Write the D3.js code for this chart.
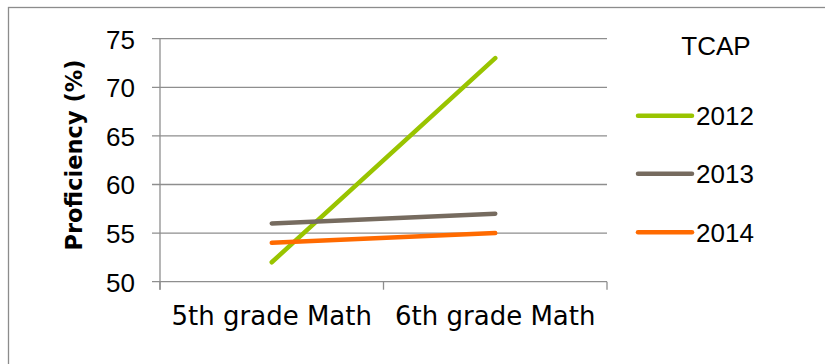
<!DOCTYPE html>
<html><head><meta charset="utf-8">
<script src="https://cdn.jsdelivr.net/npm/d3@7"></script>
<style>
html,body{margin:0;padding:0;background:#fff;}
svg{display:block;}
text{fill:#000;}
</style></head>
<body>
<svg id="c" width="825" height="364"></svg>
<script>
const categories = ["5th grade Math", "6th grade Math"];
const seriesNames = ["2012", "2013", "2014"];
const values2012 = [52, 73];
const values2013 = [56, 57];
const values2014 = [54, 55];
const yTicks = [50, 55, 60, 65, 70, 75];
const colors = ["#99c400", "#766b5f", "#ff6a00"];
const legendTitle = "TCAP";
const yTitle = "Proficiency (%)";

const series = [values2012, values2013, values2014];
const svg = d3.select("#c");
const W = 825, H = 364;
const m = {left:160, right:607, top:38.7, bottom:281.7};
const numFont = "Liberation Sans";
const catFont = "DejaVu Sans";

// outer frame
svg.append("rect").attr("x",8.5).attr("y",7.5).attr("width",W).attr("height",H)
  .attr("fill","none").attr("stroke","#8c8c8c").attr("stroke-width",1.3);

const x = d3.scaleBand().domain(categories).range([m.left, m.right]).padding(0);
const y = d3.scaleLinear().domain([50,75]).range([m.bottom, m.top]);

const gridColor = "#8e8e8e";
svg.append("g").selectAll("line").data(yTicks).join("line")
  .attr("x1", m.left-8).attr("x2", m.right)
  .attr("y1", d=>y(d)).attr("y2", d=>y(d))
  .attr("stroke", gridColor).attr("stroke-width",1.3);

svg.append("line").attr("x1",m.left).attr("x2",m.left).attr("y1",m.top).attr("y2",m.bottom+8)
  .attr("stroke",gridColor).attr("stroke-width",1.3);

const xAxis = d3.axisBottom(x).tickSize(0).tickSizeOuter(0);
const gx = svg.append("g").attr("transform",`translate(0,${m.bottom})`).call(xAxis);
gx.select(".domain").remove();
gx.selectAll("text").attr("dy",null).attr("y",43).attr("font-size","26px")
  .style("font-family",catFont).attr("fill","#000");
const bounds = [m.left].concat(categories.map(c=>x(c)+x.bandwidth()));
svg.append("g").selectAll("line").data(bounds).join("line")
  .attr("x1",d=>d).attr("x2",d=>d).attr("y1",m.bottom).attr("y2",m.bottom+8)
  .attr("stroke",gridColor).attr("stroke-width",1.3);

const yAxis = d3.axisLeft(y).tickValues(yTicks).tickSize(0).tickPadding(0);
const gy = svg.append("g").attr("transform",`translate(135,0)`).call(yAxis);
gy.select(".domain").remove();
gy.selectAll("text").attr("font-size","26px").attr("dy","0.36em").attr("x",0)
  .style("font-family",numFont).attr("fill","#000");

svg.append("text").attr("transform",`translate(82,155) rotate(-90)`)
  .attr("text-anchor","middle").attr("font-size","22.5px").attr("font-weight","bold")
  .style("font-family",catFont).text(yTitle);

const line = d3.line().x((d,i)=>x(categories[i])+x.bandwidth()/2).y(d=>y(d));
svg.append("g").selectAll("path").data(series).join("path")
  .attr("d", line).attr("fill","none").attr("stroke",(d,i)=>colors[i])
  .attr("stroke-width",4.5).attr("stroke-linecap","round");

svg.append("text").attr("x",716).attr("y",55).attr("text-anchor","middle")
  .attr("font-size","26px").style("font-family",numFont).text(legendTitle);
const ly = [115.7, 173.7, 232.3];
const lg = svg.append("g").selectAll("g").data(seriesNames).join("g")
  .attr("transform",(d,i)=>`translate(0,${ly[i]})`);
lg.append("line").attr("x1",638).attr("x2",692).attr("stroke",(d,i)=>colors[i])
  .attr("stroke-width",4.5).attr("stroke-linecap","round");
lg.append("text").attr("x",696).attr("dy","0.36em").attr("font-size","26px")
  .style("font-family",numFont).text(d=>d);
</script>
</body></html>
